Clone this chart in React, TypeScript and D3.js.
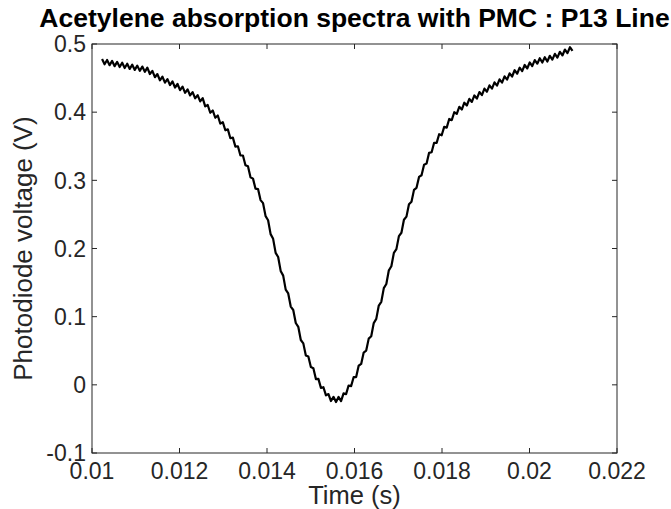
import React from "react";
import * as d3 from "d3";

// Sampled signal: start time, sample interval, and read-off voltages
const T_START = 0.01023;
const T_STEP = 0.0000575;
const voltages: number[] = [
  0.4780, 0.4703, 0.4766, 0.4689, 0.4752, 0.4675, 0.4738, 0.4662, 0.4725, 0.4648,
  0.4711, 0.4634, 0.4697, 0.4620, 0.4683, 0.4606, 0.4669, 0.4592, 0.4653, 0.4560,
  0.4606, 0.4513, 0.4559, 0.4468, 0.4520, 0.4433, 0.4485, 0.4397, 0.4450, 0.4362,
  0.4413, 0.4323, 0.4374, 0.4284, 0.4334, 0.4245, 0.4295, 0.4203, 0.4250, 0.4158,
  0.4205, 0.4085, 0.4105, 0.3991, 0.4025, 0.3918, 0.3951, 0.3832, 0.3853, 0.3734,
  0.3748, 0.3618, 0.3627, 0.3495, 0.3500, 0.3365, 0.3364, 0.3221, 0.3205, 0.3045,
  0.3025, 0.2878, 0.2872, 0.2710, 0.2665, 0.2475, 0.2415, 0.2211, 0.2142, 0.1935,
  0.1875, 0.1671, 0.1602, 0.1397, 0.1341, 0.1148, 0.1098, 0.0907, 0.0851, 0.0658,
  0.0608, 0.0429, 0.0415, 0.0261, 0.0243, 0.0084, 0.0087, -0.0044, -0.0035, -0.0155,
  -0.0135, -0.0238, -0.0176, -0.0253, -0.0177, -0.0238, -0.0125, -0.0137, -0.0010, -0.0019,
  0.0112, 0.0114, 0.0280, 0.0306, 0.0474, 0.0503, 0.0678, 0.0713, 0.0906, 0.0967,
  0.1163, 0.1218, 0.1419, 0.1479, 0.1680, 0.1740, 0.1936, 0.1991, 0.2181, 0.2231,
  0.2421, 0.2468, 0.2648, 0.2686, 0.2860, 0.2890, 0.3050, 0.3074, 0.3230, 0.3246,
  0.3403, 0.3412, 0.3551, 0.3550, 0.3677, 0.3661, 0.3785, 0.3773, 0.3900, 0.3883,
  0.3999, 0.3975, 0.4078, 0.4039, 0.4139, 0.4098, 0.4195, 0.4150, 0.4245, 0.4200,
  0.4295, 0.4250, 0.4345, 0.4300, 0.4393, 0.4345, 0.4437, 0.4389, 0.4481, 0.4434,
  0.4526, 0.4478, 0.4570, 0.4523, 0.4615, 0.4564, 0.4653, 0.4603, 0.4692, 0.4641,
  0.4729, 0.4676, 0.4764, 0.4711, 0.4791, 0.4728, 0.4806, 0.4743, 0.4827, 0.4771,
  0.4856, 0.4801, 0.4886, 0.4832, 0.4919, 0.4866, 0.4953, 0.4900,
];

const xTicks = [0.01, 0.012, 0.014, 0.016, 0.018, 0.02, 0.022];
const xTickLabels = ["0.01", "0.012", "0.014", "0.016", "0.018", "0.02", "0.022"];
const yTicks = [-0.1, 0, 0.1, 0.2, 0.3, 0.4, 0.5];
const yTickLabels = ["-0.1", "0", "0.1", "0.2", "0.3", "0.4", "0.5"];

const TITLE = "Acetylene absorption spectra with PMC : P13 Line";
const X_LABEL = "Time (s)";
const Y_LABEL = "Photodiode voltage (V)";

const W = 671;
const H = 509;
const M = { left: 92, right: 617, top: 44, bottom: 453 };
const FONT = "'Liberation Sans', Arial, Helvetica, sans-serif";
const AX = "#262626";

export default function App() {
  const x = d3.scaleLinear().domain([0.01, 0.022]).range([M.left, M.right]);
  const y = d3.scaleLinear().domain([-0.1, 0.5]).range([M.bottom, M.top]);
  const pts: [number, number][] = voltages.map((v, i) => [T_START + i * T_STEP, v]);
  const line = d3
    .line<[number, number]>()
    .x((d) => x(d[0]))
    .y((d) => y(d[1]));
  const tl = 5;

  return (
    <svg
      width={W}
      height={H}
      style={{ position: "fixed", left: 0, top: 0, background: "#fff" }}
      fontFamily={FONT}
    >
      <rect x={0} y={0} width={W} height={H} fill="#fff" />
      {xTicks.map((t, i) => (
        <g key={"xt" + i}>
          <line x1={x(t)} x2={x(t)} y1={M.bottom} y2={M.bottom - tl} stroke={AX} strokeWidth={1} />
          <line x1={x(t)} x2={x(t)} y1={M.top} y2={M.top + tl} stroke={AX} strokeWidth={1} />
          <text x={x(t)} y={479} textAnchor="middle" fontSize={23} fill={AX}>
            {xTickLabels[i]}
          </text>
        </g>
      ))}
      {yTicks.map((t, i) => (
        <g key={"yt" + i}>
          <line x1={M.left} x2={M.left + tl} y1={y(t)} y2={y(t)} stroke={AX} strokeWidth={1} />
          <line x1={M.right} x2={M.right - tl} y1={y(t)} y2={y(t)} stroke={AX} strokeWidth={1} />
          <text x={M.left - 6} y={y(t) + 8.2} textAnchor="end" fontSize={23} fill={AX}>
            {yTickLabels[i]}
          </text>
        </g>
      ))}
      <rect
        x={M.left}
        y={M.top}
        width={M.right - M.left}
        height={M.bottom - M.top}
        fill="none"
        stroke={AX}
        strokeWidth={1}
      />
      <path d={line(pts) || ""} fill="none" stroke="#000" strokeWidth={2.2} strokeLinejoin="round" />
      <text x={(M.left + M.right) / 2} y={27} textAnchor="middle" fontSize={26.5} fontWeight="bold" fill="#000">
        {TITLE}
      </text>
      <text x={(M.left + M.right) / 2} y={504} textAnchor="middle" fontSize={25.5} fill={AX}>
        {X_LABEL}
      </text>
      <text
        transform={`translate(32, ${(M.top + M.bottom) / 2}) rotate(-90)`}
        textAnchor="middle"
        fontSize={26}
        fill={AX}
      >
        {Y_LABEL}
      </text>
    </svg>
  );
}
